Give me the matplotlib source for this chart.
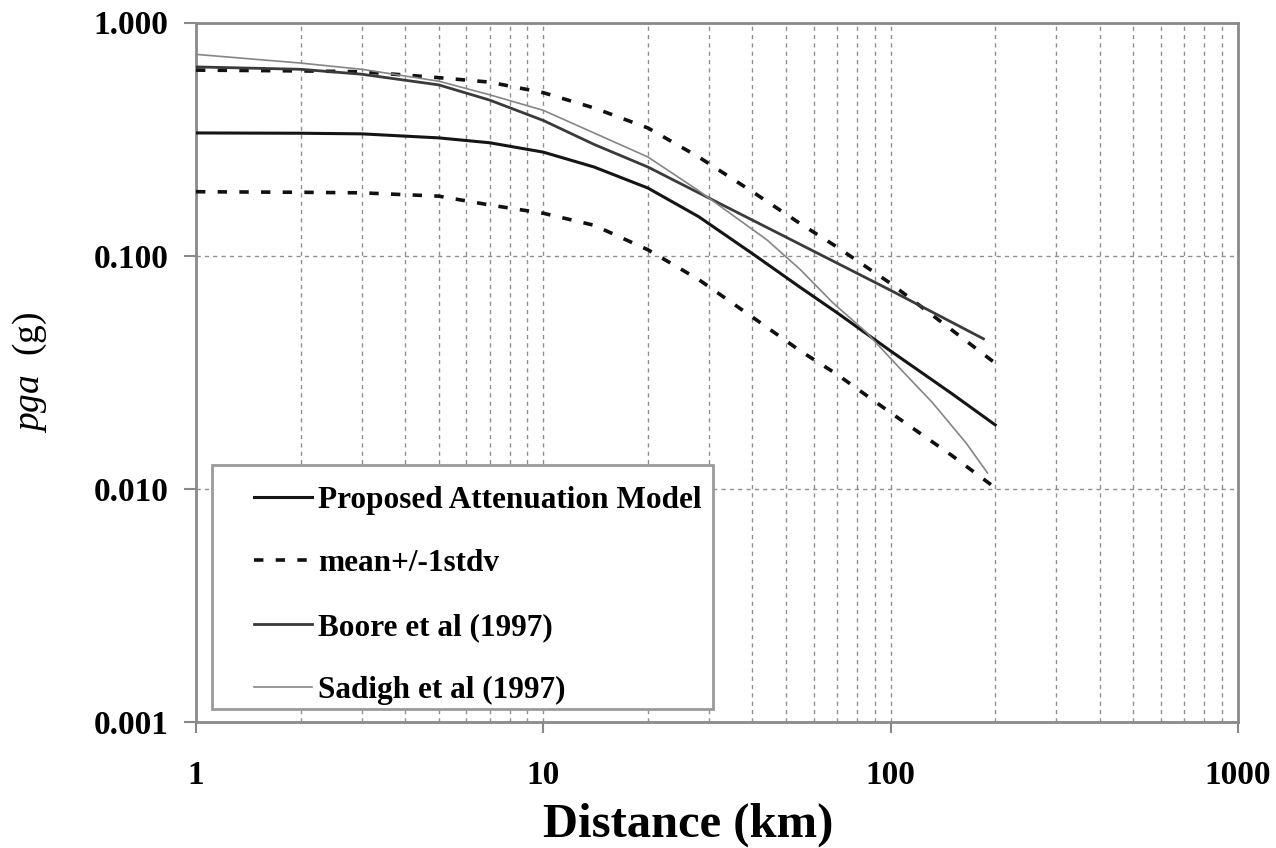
import matplotlib.pyplot as plt
from matplotlib.patches import Rectangle
from matplotlib.ticker import LogLocator, NullFormatter

# values (distance in km, pga in g)
model_dist = [1, 2, 3, 5, 7, 10, 14, 20, 28, 40, 55, 70, 100, 150, 200]
model_pga = [0.336, 0.335, 0.333, 0.32, 0.305, 0.278, 0.24, 0.195, 0.147,
             0.102, 0.073, 0.057, 0.039, 0.0256, 0.0188]
upper_pga = [0.625, 0.62, 0.615, 0.58, 0.555, 0.50, 0.43, 0.353, 0.265,
             0.188, 0.137, 0.109, 0.076, 0.048, 0.0346]
lower_pga = [0.188, 0.187, 0.186, 0.18, 0.165, 0.152, 0.135, 0.106, 0.079,
             0.0545, 0.039, 0.031, 0.0212, 0.0139, 0.0101]

boore_dist = [1, 2, 3, 5, 7, 10, 14, 20, 28, 50, 100, 185]
boore_pga = [0.645, 0.63, 0.60, 0.54, 0.465, 0.38, 0.30, 0.24, 0.186, 0.12,
             0.071, 0.044]

sadigh_dist = [1, 2, 3, 5, 7, 10, 20, 28, 44, 55, 68, 85, 106, 132, 165, 190]
sadigh_pga = [0.73, 0.67, 0.63, 0.56, 0.49, 0.42, 0.265, 0.19, 0.117, 0.087,
              0.063, 0.047, 0.033, 0.0234, 0.0157, 0.0117]

x_ticks = [1, 10, 100, 1000]
x_tick_labels = ["1", "10", "100", "1000"]
y_ticks = [0.001, 0.01, 0.1, 1.0]
y_tick_labels = ["0.001", "0.010", "0.100", "1.000"]

plt.rcParams["font.family"] = ["Liberation Serif", "DejaVu Serif"]
plt.rcParams["mathtext.fontset"] = "custom"
plt.rcParams["mathtext.it"] = "Liberation Serif:italic"
plt.rcParams["mathtext.rm"] = "Liberation Serif"

W, H = 1276, 848
fig = plt.figure(figsize=(W / 100, H / 100), dpi=100)
ax = fig.add_axes([196 / W, 126 / H, 1042 / W, 699.5 / H])
ax.set_xscale("log")
ax.set_yscale("log")
ax.set_xlim(1, 1000)
ax.set_ylim(0.001, 1.0)

dash = (0, (2.6, 3.4))
l_model, = ax.plot(model_dist, model_pga, color="#151515", lw=2.2, zorder=3,
                   label="Proposed Attenuation Model")
l_upper, = ax.plot(model_dist, upper_pga, color="#111111", lw=2.6, ls=dash,
                   zorder=3, label="mean+/-1stdv")
ax.plot(model_dist, lower_pga, color="#111111", lw=2.6, ls=dash, zorder=3)
l_boore, = ax.plot(boore_dist, boore_pga, color="#3a3a3a", lw=2.0, zorder=3,
                   label="Boore et al (1997)")
l_sadigh, = ax.plot(sadigh_dist, sadigh_pga, color="#858585", lw=1.2,
                    zorder=3, label="Sadigh et al (1997)")

# grid: every decade subdivision on x, decades only on y
ax.xaxis.set_minor_locator(LogLocator(base=10, subs=range(2, 10)))
ax.xaxis.set_minor_formatter(NullFormatter())
ax.yaxis.set_minor_formatter(NullFormatter())
grid_kw = dict(color="#8f8f8f", lw=1.0, ls=(0, (3, 3)))
ax.grid(True, which="both", axis="x", **grid_kw)
ax.grid(True, which="major", axis="y", **grid_kw)
ax.set_axisbelow(True)

ax.set_xticks(x_ticks, x_tick_labels)
ax.set_yticks(y_ticks, y_tick_labels)
ax.tick_params(which="minor", length=0)
ax.tick_params(axis="x", which="major", direction="out", length=8, width=1.5,
               color="#888888", pad=19, labelsize=24)
ax.tick_params(axis="y", which="major", direction="out", length=9, width=1.5,
               color="#888888", pad=11, labelsize=24)
for lab in ax.get_xticklabels() + ax.get_yticklabels():
    lab.set_fontweight("bold")
for sp in ax.spines.values():
    sp.set_color("#8a8a8a")
    sp.set_linewidth(2)

fig.text(688 / W, 1 - 837 / H, "Distance (km)", ha="center", va="baseline",
         fontsize=35, fontweight="bold")
fig.text(30 / W, 1 - 372 / H, r"$\mathit{pga}$  (g)", rotation=90,
         ha="center", va="center", fontsize=27)

# legend: opaque framed box with the entries placed inside
ax.add_patch(Rectangle((16 / 1042, 13 / 699.5), 501 / 1042, 244 / 699.5,
                       transform=ax.transAxes, facecolor="white",
                       edgecolor="#9a9a9a", lw=2, zorder=4))
leg = ax.legend([l_model, l_upper, l_boore, l_sadigh],
                [l.get_label() for l in (l_model, l_upper, l_boore, l_sadigh)],
                loc="upper left", bbox_to_anchor=(58 / 1042, 236 / 699.5),
                frameon=False, borderpad=0, borderaxespad=0,
                handlelength=1.85, handletextpad=0.2, labelspacing=1.1,
                prop=dict(weight="bold", size=22.5))
leg.set_zorder(5)

fig.savefig("out.png", dpi=100)
